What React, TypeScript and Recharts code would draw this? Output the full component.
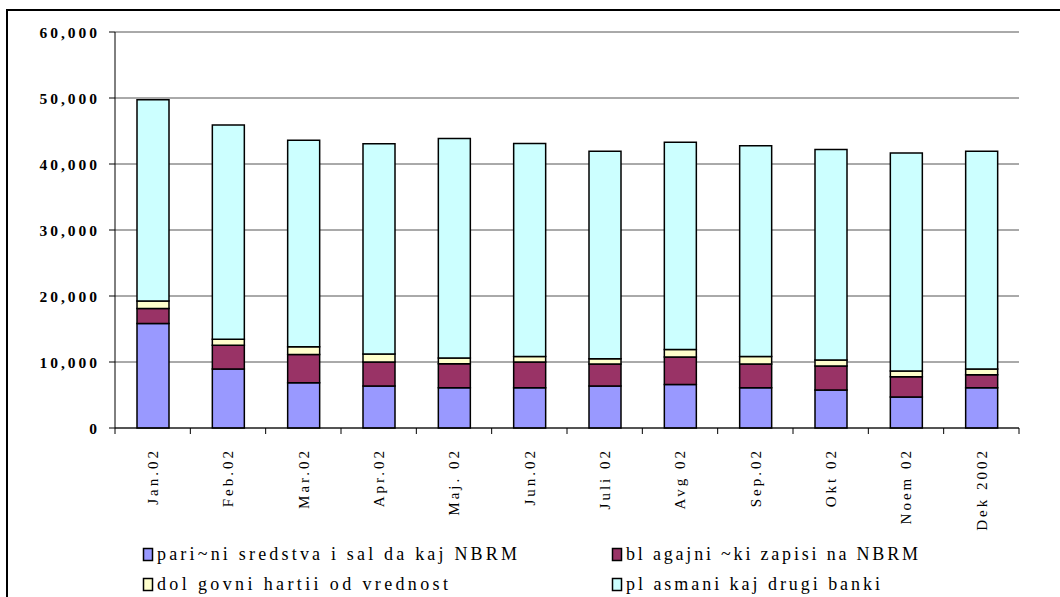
import { BarChart, Bar, XAxis, YAxis, CartesianGrid } from 'recharts';

const months = ['Jan.02', 'Feb.02', 'Mar.02', 'Apr.02', 'Maj. 02', 'Jun.02', 'Juli 02', 'Avg 02', 'Sep.02', 'Okt 02', 'Noem 02', 'Dek 2002'];
const pariciSredstva = [15850, 8950, 6850, 6350, 6100, 6100, 6350, 6600, 6100, 5750, 4700, 6100];
const blagajnickiZapisi = [2250, 3600, 4300, 3650, 3650, 3900, 3350, 4150, 3600, 3650, 3050, 1950];
const dolgovniHartii = [1150, 900, 1150, 1200, 850, 850, 800, 1150, 1150, 900, 900, 900];
const plasmaniBanki = [30500, 32450, 31300, 31850, 33250, 32250, 31450, 31400, 31900, 31900, 33000, 33000];
const yTicks = [0, 10000, 20000, 30000, 40000, 50000, 60000];

const seriesNames = ['pari~ni sredstva i sal da kaj NBRM', 'bl agajni ~ki zapisi na NBRM', 'dol govni hartii od vrednost', 'pl asmani kaj drugi banki'];
const seriesKeys = ['pari', 'blag', 'dolg', 'plas'];
const seriesColors = ['#9999FF', '#993366', '#FFFFCC', '#CCFFFF'];

// legend layout (2 columns x 2 rows), widths
const legendPos = [
  { x: 143, y: 548, w: 360 },
  { x: 612, y: 548, w: 292 },
  { x: 143, y: 578, w: 291 },
  { x: 612, y: 578, w: 254 },
];

const data = months.map((m, i) => ({
  name: m,
  pari: pariciSredstva[i],
  blag: blagajnickiZapisi[i],
  dolg: dolgovniHartii[i],
  plas: plasmaniBanki[i],
}));

const FONT = '"Liberation Serif", "Times New Roman", serif';

function MonthTick(props: any) {
  const { x, y, payload, index } = props;
  const half = payload.offset ?? 37.67;
  const ty = y + 14;
  return (
    <g>
      <line x1={x - half} x2={x - half} y1={y - 6} y2={y} stroke="#000" />
      {index === months.length - 1 && <line x1={x + half} x2={x + half} y1={y - 6} y2={y} stroke="#000" />}
      <text
        x={x}
        y={ty}
        dy="0.35em"
        transform={`rotate(-90, ${x}, ${ty})`}
        textAnchor="end"
        fontFamily={FONT}
        fontSize={15}
        letterSpacing={3}
        fill="#000"
      >
        {payload.value}
      </text>
    </g>
  );
}

export default function App() {
  return (
    <div style={{ position: 'absolute', left: 0, top: 0, width: 1060, height: 597, background: '#fff', overflow: 'hidden' }}>
      <div style={{ position: 'absolute', left: 6, top: 9, width: 1100, height: 700, borderLeft: '2px solid #000', borderTop: '2px solid #000' }} />
      <div style={{ position: 'absolute', left: 0, top: 0 }}>
        <BarChart width={1060} height={597} data={data} margin={{ top: 32, right: 41, bottom: 89, left: 55 }} barSize={32}>
          <CartesianGrid vertical={false} stroke="#555" />
          <XAxis
            dataKey="name"
            height={80}
            interval={0}
            tickLine={false}
            tickSize={6}
            tickMargin={0}
            axisLine={{ stroke: '#000' }}
            tick={<MonthTick />}
          />
          <YAxis
            width={60}
            domain={[0, 60000]}
            ticks={yTicks}
            tickSize={6}
            tickMargin={9}
            tickFormatter={(v: number) => v.toLocaleString('en-US')}
            axisLine={{ stroke: '#000' }}
            tickLine={{ stroke: '#000' }}
            tick={{ fontFamily: FONT, fontSize: 15.5, fontWeight: 'bold', fill: '#000', letterSpacing: 3 }}
          />
          <YAxis
            yAxisId="frame"
            orientation="right"
            width={0}
            domain={[0, 60000]}
            tick={false}
            tickLine={false}
            axisLine={{ stroke: '#888', strokeWidth: 1.5 }}
          />
          {seriesKeys.map((k, i) => (
            <Bar
              key={k}
              dataKey={k}
              name={seriesNames[i]}
              stackId="a"
              fill={seriesColors[i]}
              stroke="#000"
              strokeWidth={1.5}
              isAnimationActive={false}
            />
          ))}
        </BarChart>
      </div>
      <svg width={1060} height={597} style={{ position: 'absolute', left: 0, top: 0, pointerEvents: 'none' }}>
        {seriesNames.map((n, i) => (
          <g key={n}>
            <rect x={legendPos[i].x + 0.5} y={legendPos[i].y + 0.5} width={9} height={12} fill={seriesColors[i]} stroke="#000" strokeWidth={1.5} />
            <text
              x={legendPos[i].x + 14}
              y={legendPos[i].y + 12}
              fontFamily={FONT}
              fontSize={18}
              textLength={legendPos[i].w}
              lengthAdjust="spacing"
              fill="#000"
            >
              {n}
            </text>
          </g>
        ))}
      </svg>
    </div>
  );
}
